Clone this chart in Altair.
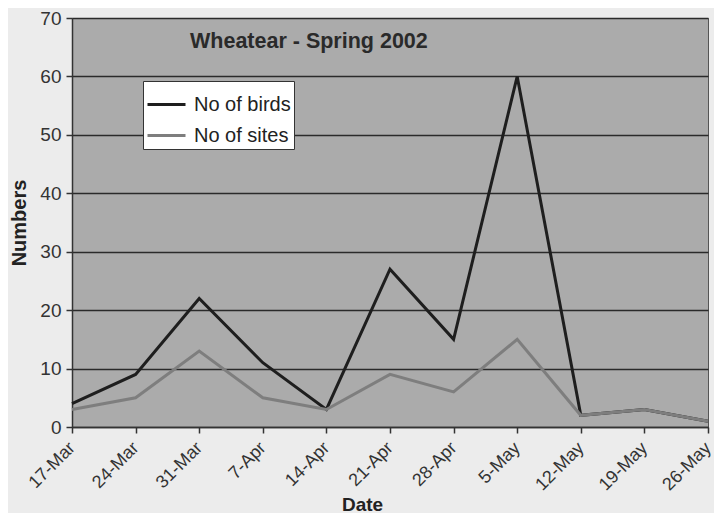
import altair as alt
import pandas as pd

dates = ["17-Mar", "24-Mar", "31-Mar", "7-Apr", "14-Apr", "21-Apr", "28-Apr",
         "5-May", "12-May", "19-May", "26-May"]
birds = [4, 9, 22, 11, 3, 27, 15, 60, 2, 3, 1]
sites = [3, 5, 13, 5, 3, 9, 6, 15, 2, 3, 1]
series = ["No of birds", "No of sites"]
y_ticks = [0, 10, 20, 30, 40, 50, 60, 70]
title_text = "Wheatear - Spring 2002"

rows = []
for i, d in enumerate(dates):
    rows.append({"date": d, "series": series[0], "value": birds[i], "order": 0})
for i, d in enumerate(dates):
    rows.append({"date": d, "series": series[1], "value": sites[i], "order": 1})
df = pd.DataFrame(rows)

FONT = "Liberation Sans"

lines = alt.Chart(df).mark_line(strokeWidth=3, strokeJoin="miter").encode(
    x=alt.X("date:O", sort=dates, title="Date",
            scale=alt.Scale(type="point", padding=0),
            axis=alt.Axis(labelAngle=-45, labelAlign="right", labelBaseline="middle",
                          labelFontSize=18, labelColor="#333333",
                          titleFontSize=19, titleFontWeight="bold", titleColor="#222222",
                          titleX=290, titleY=77, titleBaseline="middle", titleAlign="center",
                          domainColor="#333333", tickColor="#333333", tickSize=6,
                          domainWidth=1.5, tickWidth=1.5, grid=False,
                          labelPadding=12)),
    y=alt.Y("value:Q", title="Numbers",
            scale=alt.Scale(domain=[0, 70], nice=False),
            axis=alt.Axis(values=y_ticks, labelFontSize=19, labelColor="#333333",
                          titleFontSize=20, titleFontWeight="bold", titleColor="#222222",
                          domainColor="#333333", tickColor="#333333", tickSize=6,
                          domainWidth=1.5, tickWidth=1.5, gridColor="#2a2a2a",
                          gridWidth=1.3, gridOpacity=1, titlePadding=10, labelPadding=5)),
    color=alt.Color("series:N", scale=alt.Scale(domain=series, range=["#1e1e1e", "#7e7e7e"]),
                    legend=alt.Legend(title=None, orient="none", legendX=71, legendY=63,
                                      fillColor="white", strokeColor="#333333",
                                      symbolType="stroke", symbolSize=1444,
                                      symbolStrokeWidth=3, labelFontSize=20,
                                      labelColor="#222222", padding=3, rowPadding=0,
                                      labelOffset=7)),
    detail="order:O",
)

title = alt.Chart(pd.DataFrame({"t": [title_text]})).mark_text(
    fontSize=21.5, fontWeight="bold", font=FONT, color="#2a2a2a", align="left",
    baseline="middle").encode(x=alt.value(118), y=alt.value(24), text="t:N")

chart = alt.layer(lines, title).properties(
    width=636, height=409,
    autosize=alt.AutoSizeParams(type="none"),
    padding={"left": 64, "top": 10, "right": 6, "bottom": 86},
    background="#ececec",
).configure(font=FONT).configure_view(fill="#ababab", stroke="#555555")

chart.save("out.html", embed_options={"renderer": "svg", "actions": False})
